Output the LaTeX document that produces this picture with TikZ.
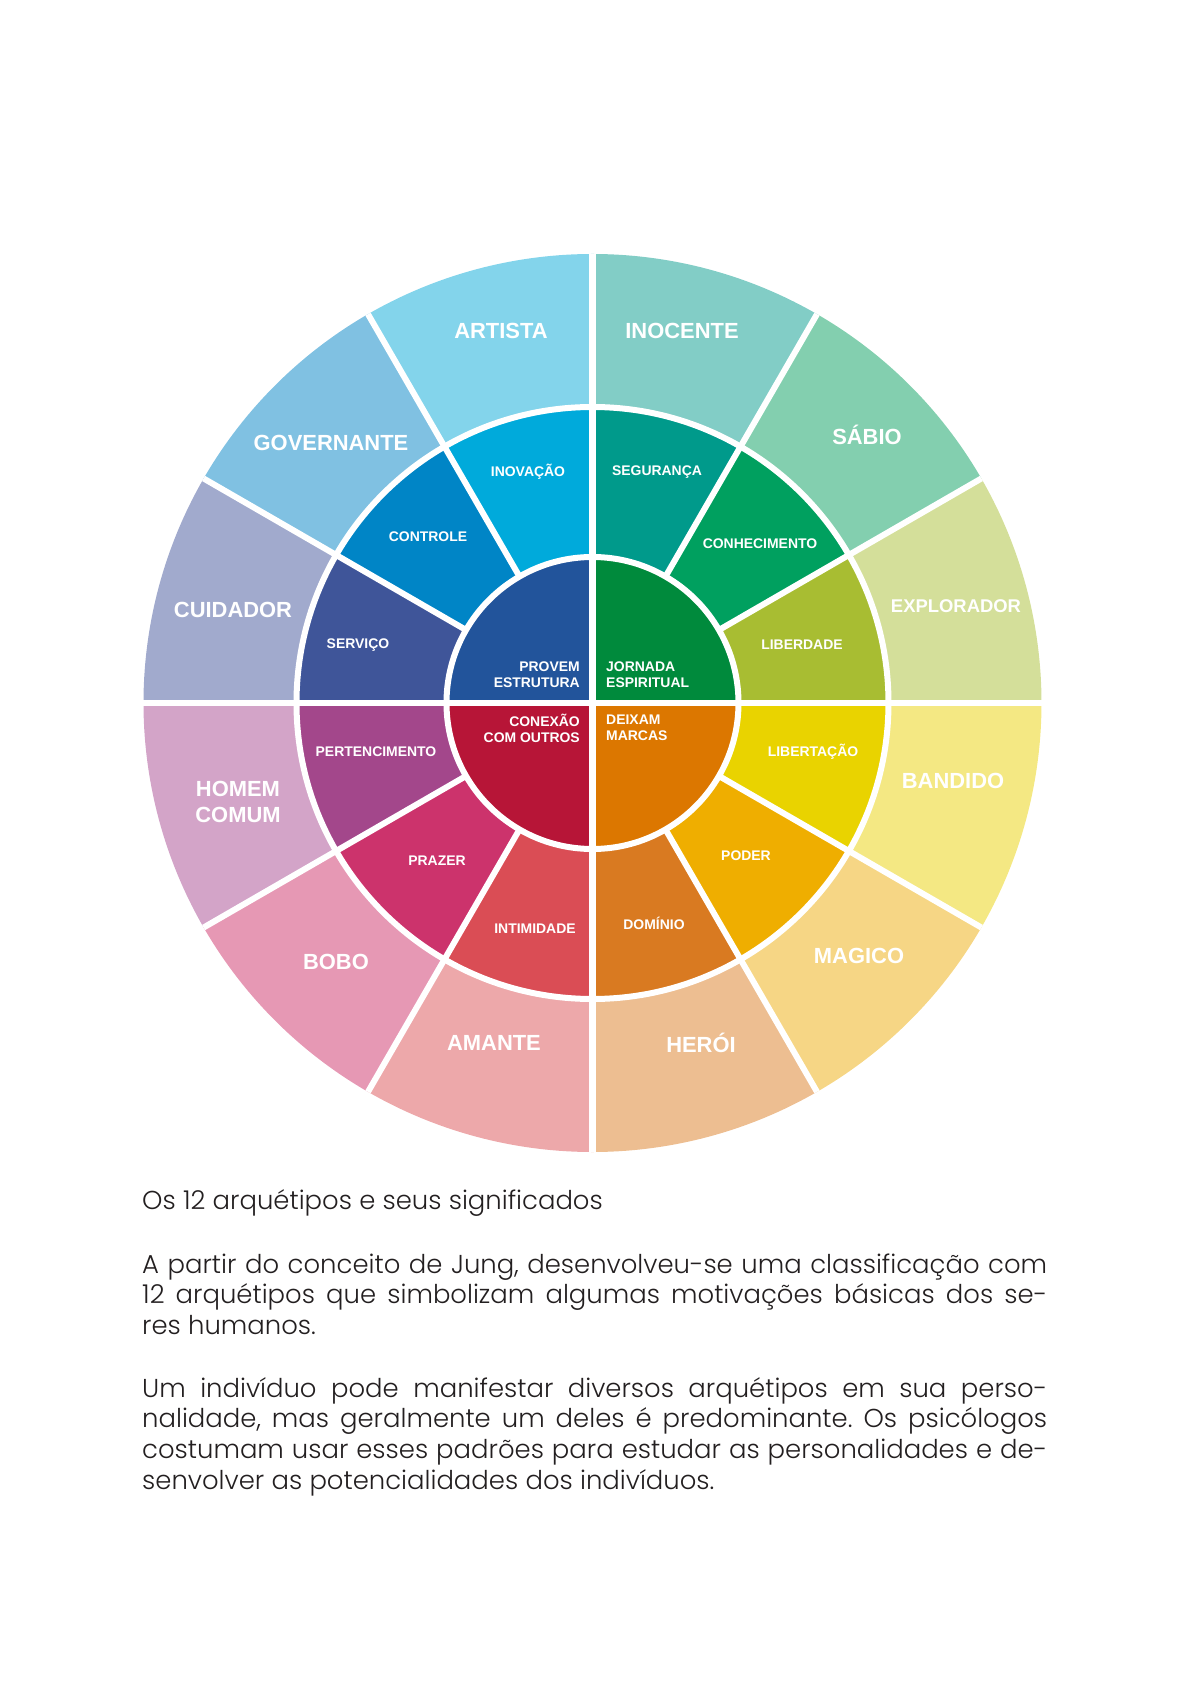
\documentclass[tikz,border=0pt]{standalone}
\usepackage{fontspec}
\setmainfont{Liberation Sans}
\IfFontExistsTF{Poppins Light}{\newfontfamily\textofont{Poppins Light}}{\newfontfamily\textofont{Poppins}}
\usetikzlibrary{positioning}
% anel externo: arquetipos
\definecolor{corExplorador}{HTML}{D4DF9A}
\definecolor{corSabio}{HTML}{83CFAF}
\definecolor{corInocente}{HTML}{82CDC6}
\definecolor{corArtista}{HTML}{83D4EB}
\definecolor{corGovernante}{HTML}{80C1E2}
\definecolor{corCuidador}{HTML}{A1AACD}
\definecolor{corHomem}{HTML}{D3A4C8}
\definecolor{corBobo}{HTML}{E698B4}
\definecolor{corAmante}{HTML}{EDA8AA}
\definecolor{corHeroi}{HTML}{EDBE91}
\definecolor{corMagico}{HTML}{F6D685}
\definecolor{corBandido}{HTML}{F4E883}
% anel do meio: motivacoes
\definecolor{corLiberdade}{HTML}{A8BD32}
\definecolor{corConhecimento}{HTML}{00A05F}
\definecolor{corSeguranca}{HTML}{009A8B}
\definecolor{corInovacao}{HTML}{00AADB}
\definecolor{corControle}{HTML}{0085C6}
\definecolor{corServico}{HTML}{3F5599}
\definecolor{corPertencimento}{HTML}{A3478B}
\definecolor{corPrazer}{HTML}{CC336C}
\definecolor{corIntimidade}{HTML}{DA4D55}
\definecolor{corDominio}{HTML}{D97A21}
\definecolor{corPoder}{HTML}{EFAE00}
\definecolor{corLibertacao}{HTML}{E9D300}
% centro: grupos
\definecolor{corEstrutura}{HTML}{22549B}
\definecolor{corJornada}{HTML}{008A3C}
\definecolor{corConexao}{HTML}{B71537}
\definecolor{corMarcas}{HTML}{DC7700}
\definecolor{cinzaTexto}{HTML}{231F20}
% espacos do texto corrido
\newcommand{\espacosTexto}{\frenchspacing\spaceskip 0.28em plus 0.6em minus 0.12em\relax}

\begin{document}
\begin{tikzpicture}[
  x=1bp, y=1bp,
  gap/.style       = {draw=white, line width=6bp},
  arquetipo/.style = {text=white, inner sep=0pt, align=center,
                      font=\bfseries\fontsize{22}{27}\selectfont},
  motivacao/.style = {text=white, inner sep=0pt, align=center,
                      font=\bfseries\fontsize{14}{16}\selectfont},
  grupo/.style     = {text=white, inner sep=0pt,
                      font=\bfseries\fontsize{14}{16}\selectfont},
  texto/.style     = {text=cinzaTexto, inner sep=0pt, anchor=base west,
                      font=\textofont\fontsize{26}{31}\selectfont\espacosTexto},
]
\useasboundingbox (-592.5,-981) rectangle (598.5,703);

% ── Anel externo ─────────────────────────────────────────────
\fill[corExplorador] (0,0) -- (0:449)   arc[start angle=0,   end angle=30,  radius=449] -- cycle;
\fill[corSabio]      (0,0) -- (30:449)  arc[start angle=30,  end angle=60,  radius=449] -- cycle;
\fill[corInocente]   (0,0) -- (60:449)  arc[start angle=60,  end angle=90,  radius=449] -- cycle;
\fill[corArtista]    (0,0) -- (90:449)  arc[start angle=90,  end angle=120, radius=449] -- cycle;
\fill[corGovernante] (0,0) -- (120:449) arc[start angle=120, end angle=150, radius=449] -- cycle;
\fill[corCuidador]   (0,0) -- (150:449) arc[start angle=150, end angle=180, radius=449] -- cycle;
\fill[corHomem]      (0,0) -- (180:449) arc[start angle=180, end angle=210, radius=449] -- cycle;
\fill[corBobo]       (0,0) -- (210:449) arc[start angle=210, end angle=240, radius=449] -- cycle;
\fill[corAmante]     (0,0) -- (240:449) arc[start angle=240, end angle=270, radius=449] -- cycle;
\fill[corHeroi]      (0,0) -- (270:449) arc[start angle=270, end angle=300, radius=449] -- cycle;
\fill[corMagico]     (0,0) -- (300:449) arc[start angle=300, end angle=330, radius=449] -- cycle;
\fill[corBandido]    (0,0) -- (330:449) arc[start angle=330, end angle=360, radius=449] -- cycle;

% ── Anel do meio ─────────────────────────────────────────────
\fill[corLiberdade]     (0,0) -- (0:296)   arc[start angle=0,   end angle=30,  radius=296] -- cycle;
\fill[corConhecimento]  (0,0) -- (30:296)  arc[start angle=30,  end angle=60,  radius=296] -- cycle;
\fill[corSeguranca]     (0,0) -- (60:296)  arc[start angle=60,  end angle=90,  radius=296] -- cycle;
\fill[corInovacao]      (0,0) -- (90:296)  arc[start angle=90,  end angle=120, radius=296] -- cycle;
\fill[corControle]      (0,0) -- (120:296) arc[start angle=120, end angle=150, radius=296] -- cycle;
\fill[corServico]       (0,0) -- (150:296) arc[start angle=150, end angle=180, radius=296] -- cycle;
\fill[corPertencimento] (0,0) -- (180:296) arc[start angle=180, end angle=210, radius=296] -- cycle;
\fill[corPrazer]        (0,0) -- (210:296) arc[start angle=210, end angle=240, radius=296] -- cycle;
\fill[corIntimidade]    (0,0) -- (240:296) arc[start angle=240, end angle=270, radius=296] -- cycle;
\fill[corDominio]       (0,0) -- (270:296) arc[start angle=270, end angle=300, radius=296] -- cycle;
\fill[corPoder]         (0,0) -- (300:296) arc[start angle=300, end angle=330, radius=296] -- cycle;
\fill[corLibertacao]    (0,0) -- (330:296) arc[start angle=330, end angle=360, radius=296] -- cycle;

% ── Centro ───────────────────────────────────────────────────
\fill[corJornada]   (0,0) -- (0:146)   arc[start angle=0,   end angle=90,  radius=146] -- cycle;
\fill[corEstrutura] (0,0) -- (90:146)  arc[start angle=90,  end angle=180, radius=146] -- cycle;
\fill[corConexao]   (0,0) -- (180:146) arc[start angle=180, end angle=270, radius=146] -- cycle;
\fill[corMarcas]    (0,0) -- (270:146) arc[start angle=270, end angle=360, radius=146] -- cycle;

% ── Divisões brancas ─────────────────────────────────────────
\draw[gap] (0,0) circle[radius=296];
\draw[gap] (0,0) circle[radius=146];
\draw[gap] (-449,0) -- (449,0);
\draw[gap] (0,-449) -- (0,449);
\draw[gap] (30:146)  -- (30:449);
\draw[gap] (60:146)  -- (60:449);
\draw[gap] (120:146) -- (120:449);
\draw[gap] (150:146) -- (150:449);
\draw[gap] (210:146) -- (210:449);
\draw[gap] (240:146) -- (240:449);
\draw[gap] (300:146) -- (300:449);
\draw[gap] (330:146) -- (330:449);

% ── Arquétipos ───────────────────────────────────────────────
\node[arquetipo] (artista)    at (-91.5,372)  {ARTISTA};
\node[arquetipo] (inocente)   at (89.5,372)   {INOCENTE};
\node[arquetipo] (sabio)      at (274.5,268)  {SÁBIO};
\node[arquetipo] (governante) at (-261.5,260) {GOVERNANTE};
\node[arquetipo] (cuidador)   at (-359.5,93)  {CUIDADOR};
\node[arquetipo, font=\bfseries\fontsize{18.5}{22}\selectfont]
                 (explorador) at (363.5,97)   {EXPLORADOR};
\node[arquetipo] (homem)      at (-354.5,-99) {HOMEM\\COMUM};
\node[arquetipo] (bandido)    at (360.5,-78)  {BANDIDO};
\node[arquetipo] (bobo)       at (-256.5,-259){BOBO};
\node[arquetipo] (magico)     at (266.5,-253) {MAGICO};
\node[arquetipo] (amante)     at (-98.5,-340) {AMANTE};
\node[arquetipo] (heroi)      at (108.5,-340) {HERÓI};

% ── Motivações ───────────────────────────────────────────────
\node[motivacao] (inovacao)      at (-64.5,231)  {INOVAÇÃO};
\node[motivacao] (seguranca)     at (64.5,231)   {SEGURANÇA};
\node[motivacao] (controle)      at (-164.5,166) {CONTROLE};
\node[motivacao] (conhecimento)  at (167.5,159)  {CONHECIMENTO};
\node[motivacao] (servico)       at (-234.5,58)  {SERVIÇO};
\node[motivacao] (liberdade)     at (209.5,58)   {LIBERDADE};
\node[motivacao] (pertencimento) at (-216.5,-49) {PERTENCIMENTO};
\node[motivacao] (libertacao)    at (220.5,-49)  {LIBERTAÇÃO};
\node[motivacao] (prazer)        at (-155.5,-158){PRAZER};
\node[motivacao] (poder)         at (153.5,-153) {PODER};
\node[motivacao] (intimidade)    at (-57.5,-226) {INTIMIDADE};
\node[motivacao] (dominio)       at (61.5,-220)  {DOMÍNIO};

% ── Grupos do centro ─────────────────────────────────────────
\node[grupo, anchor=east, align=right] (estrutura) at (-12.5,28)  {PROVEM\\ESTRUTURA};
\node[grupo, anchor=west, align=left]  (jornada)   at (13.5,28)   {JORNADA\\ESPIRITUAL};
\node[grupo, anchor=east, align=right] (conexao)   at (-12.5,-25) {CONEXÃO\\COM OUTROS};
\node[grupo, anchor=west, align=left]  (marcas)    at (13.5,-25)  {DEIXAM\\MARCAS};

% ── Texto ────────────────────────────────────────────────────
\node[texto] (titulo) at (-450.5,-506) {Os 12 arquétipos e seus significados};
\node[texto, text width=905bp, align=justify] (paragrafoA) at (-450.5,-570)
  {A partir do conceito de Jung, desenvolveu-se uma classificação com\linebreak
   12 arquétipos que simbolizam algumas motivações básicas dos se-\linebreak
   res humanos.};
\node[texto, text width=905bp, align=justify] (paragrafoB) at (-450.5,-694)
  {Um indivíduo pode manifestar diversos arquétipos em sua perso-\linebreak
   nalidade, mas geralmente um deles é predominante. Os psicólogos\linebreak
   costumam usar esses padrões para estudar as personalidades e de-\linebreak
   senvolver as potencialidades dos indivíduos.};

\end{tikzpicture}
\end{document}
